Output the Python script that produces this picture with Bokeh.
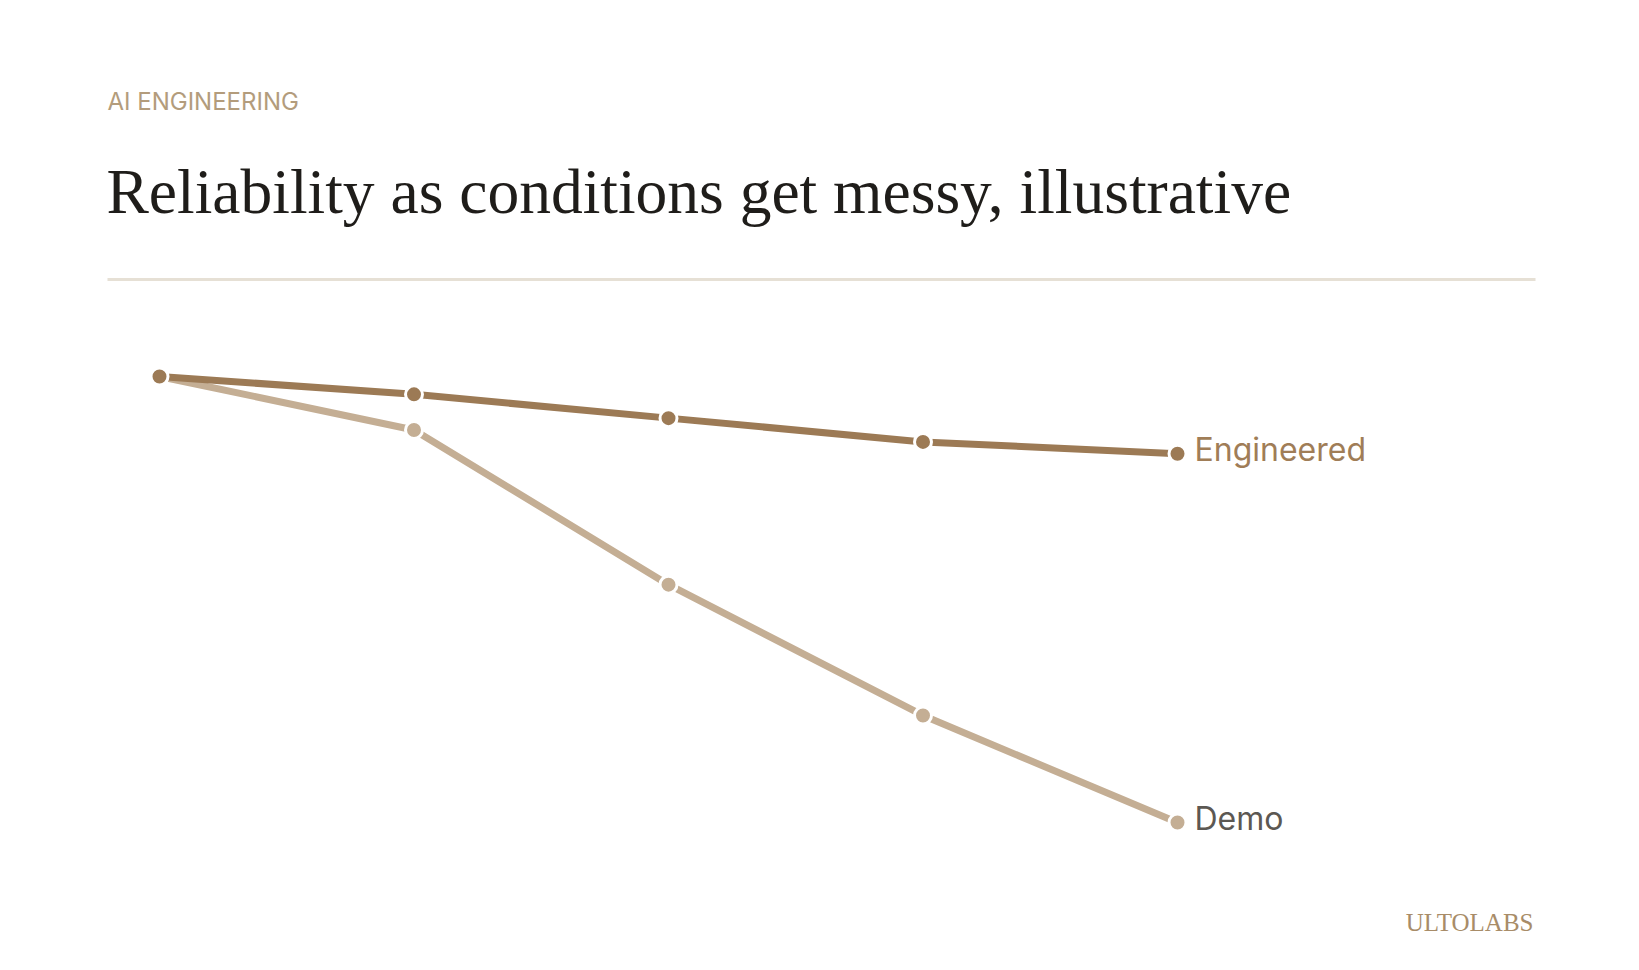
from bokeh.plotting import figure
from bokeh.models import ColumnDataSource, Label, Range1d
from bokeh.embed import file_html
from bokeh.resources import INLINE

# ----------------------------
# Data (illustrative reliability scores)
# ----------------------------
steps = [0, 1, 2, 3, 4]
engineered = [95, 92, 88, 84, 82]
demo = [95, 86, 60, 38, 20]

kicker = "AI ENGINEERING"
title_text = "Reliability as conditions get messy, illustrative"
brand = "ULTOLABS"

ENG_COLOR = "#9c7a55"
DEMO_COLOR = "#c4ae94"

# ----------------------------
# Canvas / scale setup
# ----------------------------
W, H = 1623, 954
STEP_PX = 254.5      # px between steps
X_ORIGIN = 159       # px of step 0
UNIT_PX = 5.947      # px per score unit
Y_REF_PX = 376       # px of score 95

X0 = -X_ORIGIN / STEP_PX
X1 = (W - X_ORIGIN) / STEP_PX
Y1 = 95 + Y_REF_PX / UNIT_PX
Y0 = 95 - (H - Y_REF_PX) / UNIT_PX


def dx(px):
    return X0 + px / W * (X1 - X0)


def dy(py):
    return Y1 - py / H * (Y1 - Y0)


p = figure(width=W, height=H, output_backend="svg", toolbar_location=None,
           x_range=Range1d(X0, X1), y_range=Range1d(Y0, Y1),
           min_border=0, min_border_left=0, min_border_right=0,
           min_border_top=0, min_border_bottom=0)
p.axis.visible = False
p.grid.visible = False
p.outline_line_color = None
p.background_fill_color = "white"
p.border_fill_color = "white"

# header
p.add_layout(Label(x=dx(107), y=dy(110 - 9), text=kicker, text_font="Inter",
                   text_font_size="24px", text_color="#b39c7c",
                   text_baseline="alphabetic"))
p.add_layout(Label(x=dx(106), y=dy(213 - 22), text=title_text,
                   text_font="Liberation Serif", text_font_size="63.5px",
                   text_color="#1f1d1a", text_baseline="alphabetic"))
p.segment(x0=[dx(107)], y0=[dy(279)], x1=[dx(1535)], y1=[dy(279)],
          line_color="#e6e0d5", line_width=3)

# series
src_demo = ColumnDataSource(dict(x=steps, y=demo))
src_eng = ColumnDataSource(dict(x=steps, y=engineered))

p.line("x", "y", source=src_demo, line_color=DEMO_COLOR, line_width=7)
p.scatter("x", "y", source=src_demo, size=17, fill_color=DEMO_COLOR,
          line_color="white", line_width=3)
p.line("x", "y", source=src_eng, line_color=ENG_COLOR, line_width=7)
p.scatter("x", "y", source=src_eng, size=17, fill_color=ENG_COLOR,
          line_color="white", line_width=3)

# end labels
p.add_layout(Label(x=steps[-1], y=engineered[-1], x_offset=17, y_offset=4,
                   text="Engineered", text_font="Inter", text_font_size="32px",
                   text_color="#a07d57", text_baseline="alphabetic"))
p.add_layout(Label(x=steps[-1], y=demo[-1], x_offset=17, y_offset=4,
                   text="Demo", text_font="Inter", text_font_size="32px",
                   text_color="#5c5853", text_baseline="alphabetic"))

# brand
p.add_layout(Label(x=dx(1533), y=dy(927 - 5), text=brand,
                   text_font="Liberation Serif", text_font_size="25px",
                   text_color="#a88c68", text_align="right",
                   text_baseline="alphabetic"))

open("out.html", "w").write(file_html(p, INLINE))
